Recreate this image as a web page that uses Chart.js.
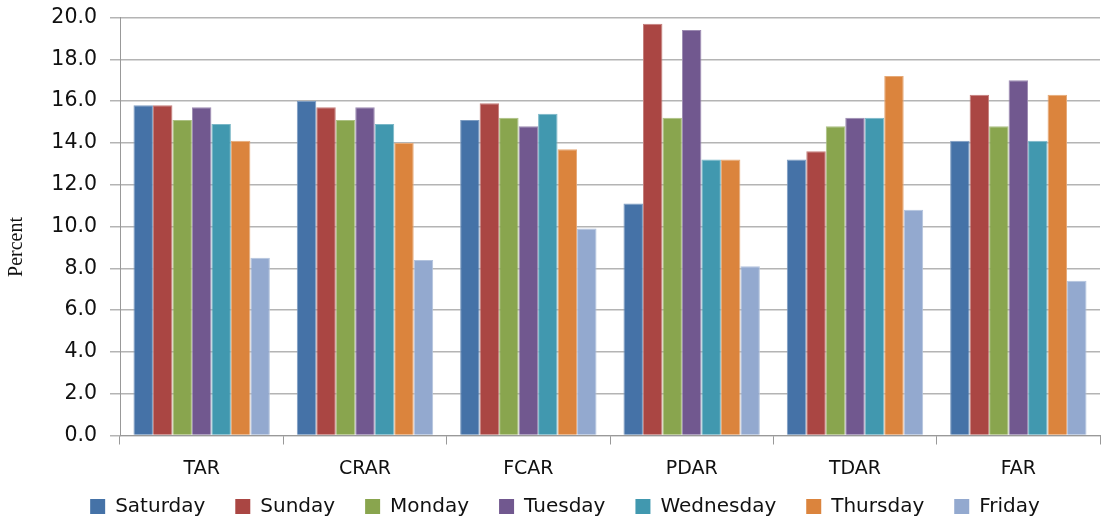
<!DOCTYPE html>
<html>
<head>
<meta charset="utf-8">
<script src="https://cdn.jsdelivr.net/npm/chart.js@4.4.0/dist/chart.umd.min.js"></script>
<style>
  html, body { margin: 0; padding: 0; background: #fff; }
  #wrap { width: 1102px; height: 520px; }
</style>
</head>
<body>
<div id="wrap"><canvas id="myChart" width="1102" height="520"></canvas></div>
<script>
var categories = ['TAR', 'CRAR', 'FCAR', 'PDAR', 'TDAR', 'FAR'];
var days = ['Saturday', 'Sunday', 'Monday', 'Tuesday', 'Wednesday', 'Thursday', 'Friday'];
var saturday  = [15.8, 16.0, 15.1, 11.1, 13.2, 14.1];
var sunday    = [15.8, 15.7, 15.9, 19.7, 13.6, 16.3];
var monday    = [15.1, 15.1, 15.2, 15.2, 14.8, 14.8];
var tuesday   = [15.7, 15.7, 14.8, 19.4, 15.2, 17.0];
var wednesday = [14.9, 14.9, 15.4, 13.2, 15.2, 14.1];
var thursday  = [14.1, 14.0, 13.7, 13.2, 17.2, 16.3];
var friday    = [8.5, 8.4, 9.9, 8.1, 10.8, 7.4];
var yTicks = [0, 2, 4, 6, 8, 10, 12, 14, 16, 18, 20];
var yTitle = 'Percent';

var series = [saturday, sunday, monday, tuesday, wednesday, thursday, friday];
var colors = ['#4572a7', '#aa4643', '#89a54e', '#71588f', '#4198af', '#db843d', '#93a9cf'];

// lighter edge like the original's bar outline
function tint(hex, k) {
    var n = parseInt(hex.slice(1), 16);
    var r = (n >> 16) & 255, g = (n >> 8) & 255, b = n & 255;
    r = Math.round(r + (255 - r) * k);
    g = Math.round(g + (255 - g) * k);
    b = Math.round(b + (255 - b) * k);
    return 'rgb(' + r + ',' + g + ',' + b + ')';
}

// the category labels sit lower than the legend box starts, so let the x axis
// draw past its own box; also put the rotated y title where the original has it
var tweaks = {
    id: 'tweaks',
    afterLayout: function(chart) {
        chart.scales.x.bottom = chart.height;
    },
    afterDraw: function(chart) {
        var c = chart.ctx;
        c.save();
        c.translate(17, 247);
        c.rotate(-Math.PI / 2);
        c.font = '20px "Liberation Serif"';
        c.fillStyle = '#111';
        c.textAlign = 'center';
        c.textBaseline = 'middle';
        c.fillText(yTitle, 0, 0);
        c.restore();
    }
};

window.onload = function() {
    var ctx = document.getElementById('myChart').getContext('2d');
    var datasets = days.map(function(d, i) {
        return {
            label: d,
            data: series[i],
            backgroundColor: colors[i],
            borderColor: tint(colors[i], 0.3),
            borderWidth: { left: 1, right: 1, top: 1, bottom: 0 },
            borderSkipped: 'bottom',
            categoryPercentage: 0.835,
            barPercentage: 1.0
        };
    });
    new Chart(ctx, {
        type: 'bar',
        data: { labels: categories, datasets: datasets },
        plugins: [tweaks],
        options: {
            responsive: false,
            animation: false,
            layout: { padding: { top: 17.5, right: 2, left: 30, bottom: -6.5 } },
            plugins: {
                tooltip: { enabled: false },
                legend: {
                    position: 'bottom',
                    labels: {
                        font: { family: 'DejaVu Sans', size: 20 },
                        color: '#111',
                        boxWidth: 15,
                        boxHeight: 15,
                        padding: 30,
                        generateLabels: function(chart) {
                            return days.map(function(d, i) {
                                return { text: d, fillStyle: colors[i], strokeStyle: colors[i], lineWidth: 0, datasetIndex: i, fontColor: '#111' };
                            });
                        }
                    }
                }
            },
            scales: {
                x: {
                    afterFit: function(scale) { scale.height = 31; },
                    grid: {
                        offset: true,
                        drawOnChartArea: false,
                        drawTicks: true,
                        tickLength: 9,
                        color: '#999'
                    },
                    border: { color: '#999', width: 1 },
                    ticks: {
                        font: { family: 'DejaVu Sans', size: 19 },
                        color: '#111',
                        padding: 13
                    }
                },
                y: {
                    min: 0,
                    max: 20,
                    afterBuildTicks: function(scale) {
                        scale.ticks = yTicks.map(function(v) { return { value: v }; });
                    },
                    afterFit: function(scale) {
                        scale.width = 90;
                        scale.paddingTop = 0;
                    },
                    grid: {
                        color: '#b4b4b4',
                        lineWidth: 1.5,
                        tickLength: 10
                    },
                    border: { color: '#999', width: 1 },
                    ticks: {
                        font: { family: 'DejaVu Sans', size: 20.5 },
                        color: '#111',
                        padding: 13,
                        callback: function(v) { return Number(v).toFixed(1); }
                    }
                }
            }
        }
    });
};
</script>
</body>
</html>
